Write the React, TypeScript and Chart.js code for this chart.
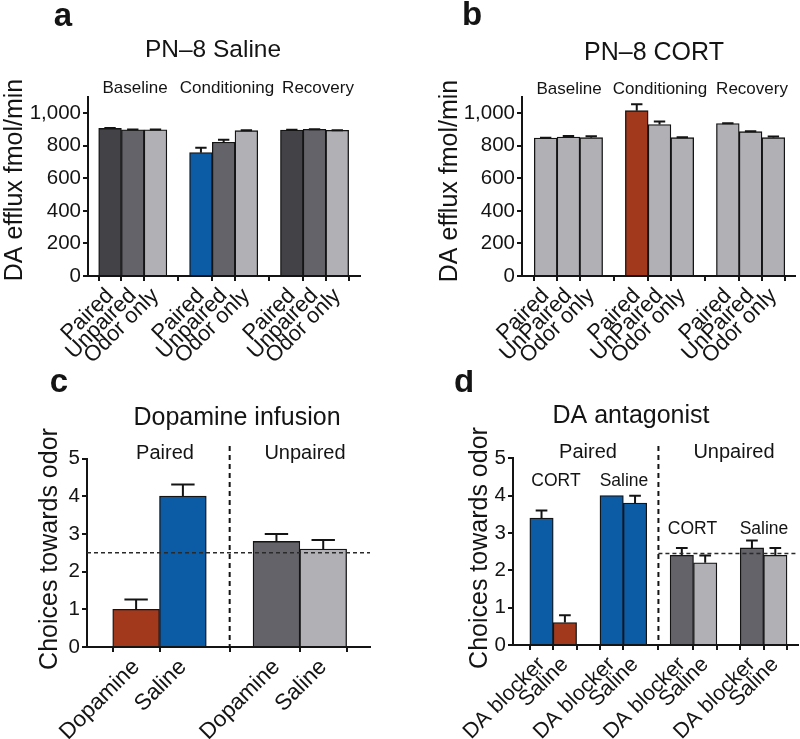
import React, { useEffect, useRef } from 'react';
import { Chart, registerables } from 'chart.js';

Chart.register(...registerables);

const DARK = '#424247';
const MID = '#636369';
const LIGHT = '#b0b0b5';
const BLUE = '#0b5ba5';
const RED = '#a3391c';
const INK = '#141414';
const FONT = '"Liberation Sans", Arial, Helvetica, sans-serif';

// ---- Panel a: PN-8 Saline ----
const aGroups = ['Baseline', 'Conditioning', 'Recovery'];
const aLabels = ['Paired', 'Unpaired', 'Odor only'];
const aValues = [907, 899, 899, 758, 822, 893, 897, 901, 895];
const aErrors = [3, 1, 1, 30, 16, 2, 1, 1, 1];
const aColors = [DARK, MID, LIGHT, BLUE, MID, LIGHT, DARK, MID, LIGHT];

// ---- Panel b: PN-8 CORT ----
const bGroups = ['Baseline', 'Conditioning', 'Recovery'];
const bLabels = ['Paired', 'UnPaired', 'Odor only'];
const bValues = [848, 854, 850, 1016, 931, 850, 937, 887, 850];
const bErrors = [2, 7, 9, 40, 18, 2, 1, 2, 8];
const bColors = [LIGHT, LIGHT, LIGHT, RED, LIGHT, LIGHT, LIGHT, LIGHT, LIGHT];

// ---- Panel c: Dopamine infusion ----
const cGroups = ['Paired', 'Unpaired'];
const cLabels = ['Dopamine', 'Saline'];
const cValues = [1.0, 4.0, 2.8, 2.6];
const cErrors = [0.26, 0.31, 0.2, 0.24];
const cColors = [RED, BLUE, MID, LIGHT];
const cChance = 2.5;

// ---- Panel d: DA antagonist ----
const dGroups = ['Paired', 'Unpaired'];
const dSubgroups = ['CORT', 'Saline', 'CORT', 'Saline'];
const dLabels = ['DA blocker', 'Saline'];
const dValues = [3.4, 0.6, 4.0, 3.8, 2.4, 2.2, 2.6, 2.4];
const dErrors = [0.2, 0.2, 0, 0.2, 0.2, 0.2, 0.2, 0.2];
const dColors = [BLUE, RED, BLUE, BLUE, MID, LIGHT, MID, LIGHT];
const dChance = 2.45;

type Txt = { t: string; x: number; y: number; size: number; bold?: boolean; rot?: boolean };

type PanelCfg = {
  left: number;
  top: number;
  w: number;
  h: number;
  area: { l: number; t: number; r: number; b: number };
  xmin: number;
  xmax: number;
  ymax: number;
  ystep: number;
  positions: number[];
  labels: string[];
  extraTicks: number[];
  values: number[];
  errors: number[];
  colors: string[];
  texts: Txt[];
  hline?: number;
  hlineFrom?: number;
  vline?: number;
  vlineTop?: number;
  xFont: number;
  yFont: number;
};

// group layout: g-th group, i-th item, with one empty slot between groups
const layout = (groups: number, size: number) => {
  const out: number[] = [];
  for (let g = 0; g < groups; g++) for (let i = 0; i < size; i++) out.push(g * (size + 1) + i);
  return out;
};
const repeat = (arr: string[], n: number) => {
  const out: string[] = [];
  for (let k = 0; k < n; k++) out.push(...arr);
  return out;
};

const panels: PanelCfg[] = [
  {
    left: 0, top: 0, w: 400, h: 370,
    area: { l: 88, t: 97, r: 360, b: 276 },
    xmin: -0.97, xmax: 11, ymax: 1100, ystep: 200,
    positions: layout(3, 3), labels: repeat(aLabels, 3), extraTicks: [],
    values: aValues, errors: aErrors, colors: aColors,
    xFont: 22, yFont: 20.5,
    texts: [
      { t: 'a', x: 63, y: 26, size: 33, bold: true },
      { t: 'PN–8 Saline', x: 213, y: 57, size: 24.5 },
      { t: aGroups[0], x: 135, y: 93, size: 17 },
      { t: aGroups[1], x: 227, y: 93, size: 17 },
      { t: aGroups[2], x: 318, y: 93, size: 17 },
      { t: 'DA efflux fmol/min', x: 22, y: 180, size: 25, rot: true },
    ],
  },
  {
    left: 400, top: 0, w: 400, h: 370,
    area: { l: 122, t: 97, r: 395, b: 276 },
    xmin: -1.04, xmax: 10.95, ymax: 1100, ystep: 200,
    positions: layout(3, 3), labels: repeat(bLabels, 3), extraTicks: [],
    values: bValues, errors: bErrors, colors: bColors,
    xFont: 22, yFont: 20.5,
    texts: [
      { t: 'b', x: 72, y: 25, size: 33, bold: true },
      { t: 'PN–8 CORT', x: 254, y: 60, size: 25 },
      { t: bGroups[0], x: 169, y: 94, size: 17 },
      { t: bGroups[1], x: 260, y: 94, size: 17 },
      { t: bGroups[2], x: 352, y: 94, size: 17 },
      { t: 'DA efflux fmol/min', x: 57, y: 181, size: 25, rot: true },
    ],
  },
  {
    left: 0, top: 370, w: 400, h: 369,
    area: { l: 87, t: 88.5, r: 370, b: 277 },
    xmin: -1.05, xmax: 5, ymax: 5, ystep: 1,
    positions: layout(2, 2), labels: repeat(cLabels, 2), extraTicks: [],
    values: cValues, errors: cErrors, colors: cColors,
    hline: cChance, vline: 2, vlineTop: 76,
    xFont: 22.5, yFont: 20.5,
    texts: [
      { t: 'c', x: 59, y: 22, size: 33, bold: true },
      { t: 'Dopamine infusion', x: 237, y: 55, size: 25 },
      { t: cGroups[0], x: 165, y: 89, size: 20 },
      { t: cGroups[1], x: 305, y: 89, size: 20 },
      { t: 'Choices towards odor', x: 57, y: 179, size: 25, rot: true },
    ],
  },
  {
    left: 400, top: 370, w: 400, h: 369,
    area: { l: 113, t: 88.3, r: 398, b: 275 },
    xmin: -1.22, xmax: 10.97, ymax: 5, ystep: 1,
    positions: layout(4, 2), labels: repeat(dLabels, 4), extraTicks: [2, 8],
    values: dValues, errors: dErrors, colors: dColors,
    hline: dChance, hlineFrom: 5, vline: 5, vlineTop: 76,
    xFont: 21.5, yFont: 20.5,
    texts: [
      { t: 'd', x: 64, y: 22, size: 33, bold: true },
      { t: 'DA antagonist', x: 231, y: 53, size: 25 },
      { t: dGroups[0], x: 188, y: 88, size: 20 },
      { t: dGroups[1], x: 334, y: 88, size: 20 },
      { t: dSubgroups[0], x: 156, y: 116, size: 17.5 },
      { t: dSubgroups[1], x: 224, y: 116, size: 17.5 },
      { t: dSubgroups[2], x: 292.5, y: 164, size: 17.5 },
      { t: dSubgroups[3], x: 364, y: 164, size: 17.5 },
      { t: 'Choices towards odor', x: 87, y: 178, size: 25, rot: true },
    ],
  },
];

function Panel({ cfg }: { cfg: PanelCfg }) {
  const ref = useRef<HTMLCanvasElement | null>(null);

  useEffect(() => {
    const canvas = ref.current;
    if (!canvas) return;
    const tickPos = [...cfg.positions, ...cfg.extraTicks].sort((p, q) => p - q);
    const labelAt = (v: number) => {
      const i = cfg.positions.findIndex((p) => Math.abs(p - v) < 1e-6);
      return i >= 0 ? cfg.labels[i] : '';
    };

    const decor = {
      id: 'decor',
      afterDatasetsDraw(chart: any) {
        const ctx = chart.ctx as CanvasRenderingContext2D;
        const ys = chart.scales.y;
        const xs = chart.scales.x;
        const area = chart.chartArea;
        const meta = chart.getDatasetMeta(0);
        ctx.save();
        // error bars
        ctx.strokeStyle = INK;
        ctx.lineWidth = 2;
        meta.data.forEach((bar: any, i: number) => {
          const e = cfg.errors[i];
          if (!e) return;
          const { x, y, width } = bar.getProps(['x', 'y', 'width'], true);
          const yTop = ys.getPixelForValue(cfg.values[i] + e);
          ctx.beginPath();
          ctx.moveTo(x, y);
          ctx.lineTo(x, yTop);
          ctx.moveTo(x - width / 4, yTop);
          ctx.lineTo(x + width / 4, yTop);
          ctx.stroke();
        });
        // divider
        if (cfg.vline !== undefined) {
          const xp = xs.getPixelForValue(cfg.vline);
          ctx.setLineDash([5, 4]);
          ctx.lineWidth = 2;
          ctx.beginPath();
          ctx.moveTo(xp, cfg.vlineTop ?? area.top);
          ctx.lineTo(xp, area.bottom);
          ctx.stroke();
        }
        // chance line
        if (cfg.hline !== undefined) {
          const yp = ys.getPixelForValue(cfg.hline);
          const x0 = cfg.hlineFrom !== undefined ? xs.getPixelForValue(cfg.hlineFrom) : area.left;
          ctx.setLineDash([4, 3]);
          ctx.lineWidth = 1.3;
          ctx.strokeStyle = '#2a2a2a';
          ctx.beginPath();
          ctx.moveTo(x0, yp);
          ctx.lineTo(area.right, yp);
          ctx.stroke();
        }
        ctx.restore();
      },
      afterDraw(chart: any) {
        const ctx = chart.ctx as CanvasRenderingContext2D;
        ctx.save();
        ctx.fillStyle = INK;
        ctx.textAlign = 'center';
        ctx.textBaseline = 'alphabetic';
        cfg.texts.forEach((tx) => {
          ctx.font = `${tx.bold ? 'bold ' : ''}${tx.size}px ${FONT}`;
          if (tx.rot) {
            ctx.save();
            ctx.translate(tx.x, tx.y);
            ctx.rotate(-Math.PI / 2);
            ctx.fillText(tx.t, 0, 0);
            ctx.restore();
          } else {
            ctx.fillText(tx.t, tx.x, tx.y);
          }
        });
        ctx.restore();
      },
    };

    const axisGrid = {
      display: true,
      drawOnChartArea: false,
      drawTicks: true,
      tickLength: 5,
      color: INK,
      lineWidth: 2,
    };
    const axisBorder = { display: true, color: INK, width: 2 };

    const chart = new Chart(canvas, {
      type: 'bar',
      data: {
        datasets: [
          {
            data: cfg.positions.map((x, i) => ({ x, y: cfg.values[i] })),
            backgroundColor: cfg.colors,
            borderColor: INK,
            borderWidth: 1.3,
            barPercentage: 1,
            categoryPercentage: 1,
          } as any,
        ],
      },
      options: {
        animation: false,
        responsive: false,
        maintainAspectRatio: false,
        events: [],
        layout: {
          padding: { left: 0, top: cfg.area.t, right: cfg.w - cfg.area.r, bottom: 0 },
        },
        plugins: {
          legend: { display: false },
          tooltip: { enabled: false },
          title: { display: false },
        },
        scales: {
          x: {
            type: 'linear',
            min: cfg.xmin,
            max: cfg.xmax,
            offset: false,
            afterFit: (s: any) => {
              s.height = cfg.h - cfg.area.b;
            },
            afterBuildTicks: (s: any) => {
              s.ticks = tickPos.map((v) => ({ value: v }));
            },
            ticks: {
              autoSkip: false,
              minRotation: 45,
              maxRotation: 45,
              padding: 2,
              color: INK,
              font: { family: FONT, size: cfg.xFont },
              callback: (v: any) => labelAt(Number(v)),
            },
            grid: axisGrid,
            border: axisBorder,
          },
          y: {
            type: 'linear',
            min: 0,
            max: cfg.ymax,
            afterFit: (s: any) => {
              s.width = cfg.area.l;
            },
            ticks: {
              stepSize: cfg.ystep,
              includeBounds: false,
              padding: 2,
              color: INK,
              font: { family: FONT, size: cfg.yFont },
              callback: (v: any) => Number(v).toLocaleString('en-US'),
            },
            grid: axisGrid,
            border: axisBorder,
          },
        },
      } as any,
      plugins: [decor],
    });
    return () => chart.destroy();
  }, [cfg]);

  return (
    <canvas
      ref={ref}
      width={cfg.w}
      height={cfg.h}
      style={{ position: 'absolute', left: cfg.left, top: cfg.top, width: cfg.w, height: cfg.h }}
    />
  );
}

export default function App() {
  return (
    <div style={{ position: 'absolute', left: 0, top: 0, width: 800, height: 739, background: '#fff', overflow: 'hidden' }}>
      {panels.map((p, i) => (
        <Panel key={i} cfg={p} />
      ))}
    </div>
  );
}
